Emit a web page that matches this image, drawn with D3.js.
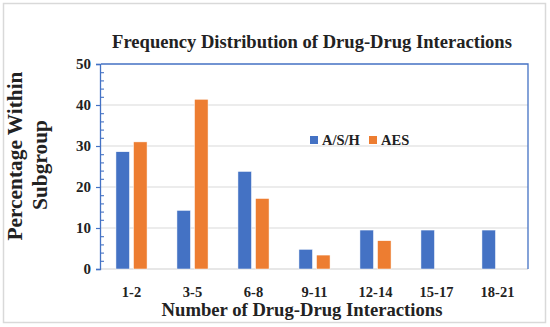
<!DOCTYPE html>
<html><head><meta charset="utf-8">
<script src="https://cdn.jsdelivr.net/npm/d3@7"></script>
<style>
html,body{margin:0;padding:0;background:#fff;}
svg{display:block;}
text{font-family:"Liberation Serif","DejaVu Serif",serif;font-weight:bold;fill:#222;}
</style></head>
<body>
<svg id="chart" width="550" height="327"></svg>
<script>
const categories = ["1-2","3-5","6-8","9-11","12-14","15-17","18-21"];
const seriesNames = ["A/S/H","AES"];
const ashValues = [28.6, 14.3, 23.8, 4.8, 9.5, 9.5, 9.5];
const aesValues = [31.0, 41.4, 17.2, 3.4, 6.9, null, null];
const yTicks = [0,10,20,30,40,50];
const colors = ["#4472C4","#ED7D31"];

const svg = d3.select("#chart");
const m = {left:101, top:64, right:528, bottom:269};

// outer border
svg.append("rect").attr("x",3.5).attr("y",3.5).attr("width",542).attr("height",319)
  .attr("fill","#fff").attr("stroke","#d9d9d9").attr("stroke-width",1.5);

const x0 = d3.scaleBand().domain(categories).range([m.left,m.right]).paddingInner(0.49).paddingOuter(0.245);
const x1 = d3.scaleBand().domain(seriesNames).range([0,x0.bandwidth()]).paddingInner(0.23);
const y = d3.scaleLinear().domain([0,50]).range([m.bottom,m.top]);

// gridlines
svg.append("g").selectAll("line").data(yTicks.filter(d=>d>0 && d<50)).join("line")
  .attr("x1",m.left).attr("x2",m.right).attr("y1",d=>y(d)).attr("y2",d=>y(d))
  .attr("stroke","#d9d9d9").attr("stroke-width",1.2);
// bottom line
svg.append("line").attr("x1",m.left).attr("x2",m.right).attr("y1",y(0)).attr("y2",y(0))
  .attr("stroke","#d0d0d0").attr("stroke-width",1.2);

// bars
const rows = categories.map((c,i)=>({cat:c, vals:[ashValues[i], aesValues[i]]}));
const g = svg.append("g").selectAll("g").data(rows).join("g")
  .attr("transform",d=>`translate(${x0(d.cat)},0)`);
g.selectAll("rect").data(d=>d.vals.map((v,j)=>({s:seriesNames[j],v,j})).filter(d=>d.v!=null)).join("rect")
  .attr("x",d=>x1(d.s)).attr("width",x1.bandwidth())
  .attr("y",d=>y(d.v)).attr("height",d=>y(0)-y(d.v))
  .attr("fill",d=>colors[d.j]).attr("stroke","#fff").attr("stroke-width",0.5);

// plot border top and right (blue)
svg.append("path").attr("d",`M${m.left},${m.top}H${m.right}V${m.bottom}`)
  .attr("fill","none").attr("stroke","#4472C4").attr("stroke-width",1.3);

// y axis
const yAxis = d3.axisLeft(y).tickValues(yTicks).tickSize(4).tickPadding(5).tickFormat(d3.format("d"));
const ya = svg.append("g").attr("transform",`translate(${m.left-1},0)`).call(yAxis);
ya.select(".domain").attr("stroke","#4472C4").attr("stroke-width",1.3);
ya.selectAll(".tick line").attr("stroke","#4472C4").attr("stroke-width",1.2);
ya.selectAll(".tick text").style("font-family",'"Liberation Serif",serif').style("font-weight","bold")
  .style("font-size","15px").attr("fill","#222");
// minor ticks inside
const minor = d3.range(2,50,2).filter(v=>v%10!==0);
const minorAxis = d3.axisRight(y).tickValues(minor).tickSize(4).tickFormat("");
const ma = svg.append("g").attr("transform",`translate(${m.left-1},0)`).call(minorAxis);
ma.select(".domain").remove();
ma.selectAll(".tick line").attr("stroke","#4472C4").attr("stroke-width",1.1);

// x axis labels
const xAxis = d3.axisBottom(x0).tickSize(0).tickPadding(0);
const xa = svg.append("g").attr("transform",`translate(0,${m.bottom})`).call(xAxis);
xa.select(".domain").remove();
xa.selectAll(".tick text").attr("dy",null).attr("y",28)
  .style("font-family",'"Liberation Serif",serif').style("font-weight","bold")
  .style("font-size","14.5px").attr("fill","#222");

function fit(sel, target){
  const len = sel.node().getComputedTextLength();
  const fs = parseFloat(sel.style("font-size"));
  sel.style("font-size", (fs*target/len).toFixed(2)+"px");
}

// title
const title = svg.append("text").attr("x",312).attr("y",47.5).attr("text-anchor","middle")
  .style("font-size","16px").text("Frequency Distribution of Drug-Drug Interactions");
fit(title, 400);

// x axis title
const xt = svg.append("text").attr("x",302).attr("y",316).attr("text-anchor","middle")
  .style("font-size","18px").text("Number of Drug-Drug Interactions");
fit(xt, 281);

// y axis title
const yt1 = svg.append("text").attr("transform","translate(22,156) rotate(-90)").attr("text-anchor","middle")
  .style("font-size","18px").text("Percentage Within");
fit(yt1, 169);
const yt2 = svg.append("text").attr("transform","translate(46.5,165) rotate(-90)").attr("text-anchor","middle")
  .style("font-size","18px").text("Subgroup");
yt2.style("font-size", yt1.style("font-size"));

// legend
const legX = [310, 369];
const lg = svg.append("g").selectAll("g").data(seriesNames).join("g")
  .attr("transform",(d,i)=>`translate(${legX[i]},136)`);
lg.append("rect").attr("width",8).attr("height",8).attr("fill",(d,i)=>colors[i]);
lg.append("text").attr("x",12).attr("y",8.5).style("font-size","14.5px").text(d=>d);
</script>
</body></html>
